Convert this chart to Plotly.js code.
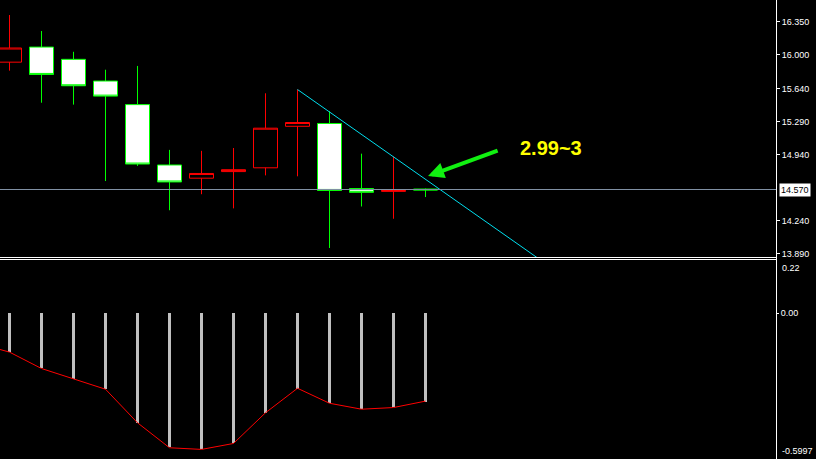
<!DOCTYPE html>
<html>
<head>
<meta charset="utf-8">
<script src="https://cdn.plot.ly/plotly-3.0.1.min.js"></script>
<style>html,body{margin:0;padding:0;background:#000;}#chart{width:816px;height:459px;}</style>
</head>
<body>
<div id="chart"></div>
<script>
// ---- data ----
const barIndex = [0,1,2,3,4,5,6,7,8,9,10,11,12,13];
const openP  = [15.92,16.08,15.95,15.72,15.47,14.83,14.69,14.76,14.80,15.24,15.27,14.58,14.55,14.575];
const highP  = [16.42,16.25,16.03,15.84,15.88,14.99,14.98,15.01,15.59,15.63,15.40,14.95,14.92,14.58];
const lowP   = [15.83,15.49,15.47,14.66,14.82,14.35,14.52,14.37,14.72,14.71,13.95,14.39,14.26,14.49];
const closeP = [16.07,15.79,15.67,15.56,14.84,14.65,14.74,14.78,15.22,15.28,14.56,14.54,14.56,14.565];

const macdHist = [-0.162,-0.230,-0.275,-0.317,-0.462,-0.5625,-0.570,-0.547,-0.420,-0.316,-0.376,-0.401,-0.394,-0.371];
const signalIndex = [-1,0,1,2,3,4,5,6,7,8,9,10,11,12,13];
const signalVals  = [-0.126,-0.163,-0.232,-0.277,-0.319,-0.460,-0.565,-0.572,-0.547,-0.418,-0.315,-0.378,-0.403,-0.396,-0.369];

const priceTicks = [16.35,16.0,15.64,15.29,14.94,14.24,13.89];
const priceTickText = ['16.350','16.000','15.640','15.290','14.940','14.240','13.890'];
const currentPrice = 14.57;
const macdMax = 0.22, macdMin = -0.5997;

// trendline anchors (high of bar 9 and a point one bar later), extended as a ray
const trendAnchorX = [9,10];
const trendAnchorY = [15.63,15.392];
const trendEndX = 20;

// annotation positions
const arrowHead = {x:13.08, y:14.713};
const arrowTail = {x:15.30, y:14.989};
const labelPos = {x:16.93, y:15.01};
const labelText = '2.99~3';

// ---- build ----
const slope = (trendAnchorY[1]-trendAnchorY[0])/(trendAnchorX[1]-trendAnchorX[0]);
const trendX = [trendAnchorX[0], trendEndX];
const trendY = [trendAnchorY[0], trendAnchorY[0] + slope*(trendEndX-trendAnchorX[0])];

const font = 'Liberation Sans, Arial, sans-serif';
const PW = 776; // plot width in px (for crisp-line offsets)

const traces = [
  {
    type:'candlestick', x:barIndex, open:openP, high:highP, low:lowP, close:closeP,
    xaxis:'x', yaxis:'y',
    increasing:{line:{color:'#ff0000', width:1}, fillcolor:'#000000'},
    decreasing:{line:{color:'#00ff00', width:1}, fillcolor:'#ffffff'},
    hoverinfo:'skip', showlegend:false
  },
  {
    type:'scatter', mode:'lines', x:trendX, y:trendY, xaxis:'x', yaxis:'y',
    line:{color:'#00dfef', width:1}, hoverinfo:'skip', showlegend:false
  },
  {
    type:'bar', x:barIndex, y:macdHist, xaxis:'x', yaxis:'y2', width:0.094,
    marker:{color:'#c0c0c0', line:{width:0}}, hoverinfo:'skip', showlegend:false
  },
  {
    type:'scatter', mode:'lines', x:signalIndex, y:signalVals, xaxis:'x', yaxis:'y2',
    line:{color:'#ff0000', width:1}, hoverinfo:'skip', showlegend:false
  }
];

const layout = {
  width:816, height:459,
  margin:{l:0, r:40, t:0, b:0, pad:0},
  paper_bgcolor:'#000000', plot_bgcolor:'#000000',
  boxgap:0.25, boxgroupgap:0, bargap:0,
  showlegend:false,
  font:{family:font, size:9, color:'#ffffff'},
  xaxis:{range:[-0.296875, 23.953125], showgrid:false, zeroline:false, showticklabels:false, ticks:'',
         rangeslider:{visible:false}, anchor:'y', fixedrange:true},
  yaxis:{domain:[1-257/459, 1], range:[13.8545, 16.579], side:'right',
         tickvals:priceTicks, ticktext:priceTickText, ticks:'outside', ticklen:3, tickcolor:'#ffffff',
         tickfont:{family:font, size:9, color:'#ffffff'},
         showgrid:false, zeroline:false, showline:false},
  yaxis2:{domain:[3/459, 1-261/459], range:[macdMin, macdMax], side:'right', anchor:'x',
         tickvals:[0], ticktext:['0.00'], ticks:'outside', ticklen:2, tickcolor:'#ffffff',
         tickfont:{family:font, size:9, color:'#ffffff'},
         showgrid:false, zeroline:false, showline:false},
  shapes:[
    {type:'line', xref:'paper', x0:0, x1:1, yref:'y', y0:currentPrice, y1:currentPrice,
     line:{color:'#8090a4', width:1}},
    {type:'line', xref:'paper', x0:0, x1:1, yref:'y domain', y0:-0.5/257, y1:-0.5/257, line:{color:'#ffffff', width:1}},
    {type:'line', xref:'paper', x0:0, x1:1, yref:'y2 domain', y0:1+1.5/195, y1:1+1.5/195, line:{color:'#ffffff', width:1}},
    {type:'line', xref:'paper', x0:1+0.5/PW, x1:1+0.5/PW, yref:'paper', y0:0, y1:1, line:{color:'#ffffff', width:1}}
  ],
  annotations:[
    {xref:'x', yref:'y', x:arrowHead.x, y:arrowHead.y, axref:'x', ayref:'y', ax:arrowTail.x, ay:arrowTail.y,
     text:'', showarrow:true, arrowhead:2, arrowsize:0.8, arrowwidth:4, arrowcolor:'#11f011', standoff:0},
    {xref:'x', yref:'y', x:labelPos.x, y:labelPos.y, text:'<b>'+labelText+'</b>', showarrow:false,
     font:{family:font, size:20, color:'#ffff00'}},
    {xref:'paper', yref:'y', x:1, y:currentPrice, xanchor:'left', xshift:3, text:currentPrice.toFixed(3),
     showarrow:false, bgcolor:'#ffffff', borderpad:1, font:{family:font, size:9, color:'#000000'}},
    {xref:'paper', yref:'y2', x:1, y:macdMax, xanchor:'left', yanchor:'top', xshift:4, text:'0.22',
     showarrow:false, font:{family:font, size:9, color:'#ffffff'}},
    {xref:'paper', yref:'y2', x:1, y:macdMin, xanchor:'left', yanchor:'bottom', xshift:4, yshift:-2, text:'-0.5997',
     showarrow:false, font:{family:font, size:9, color:'#ffffff'}}
  ]
};

Plotly.newPlot('chart', traces, layout, {staticPlot:true, displayModeBar:false});
</script>
</body>
</html>
